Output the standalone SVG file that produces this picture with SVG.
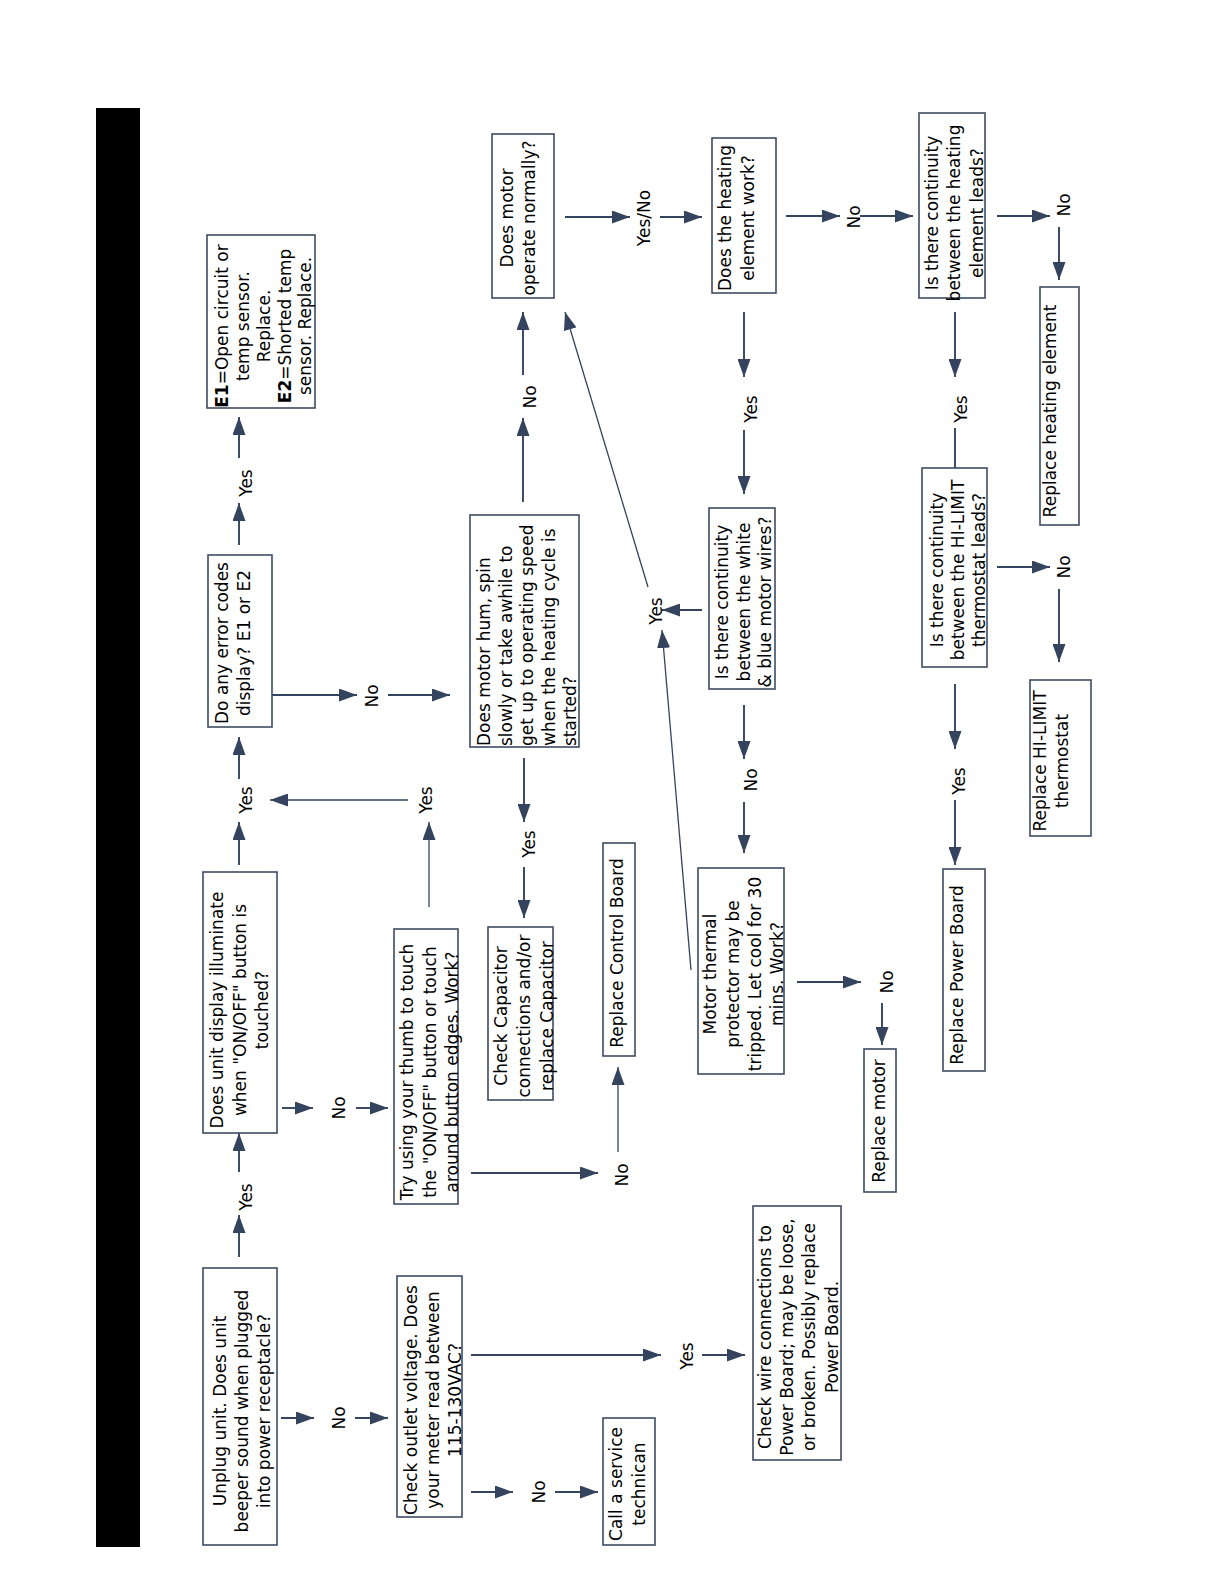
<svg xmlns="http://www.w3.org/2000/svg" width="1224" height="1584" viewBox="0 0 1224 1584">
<style>
.box{fill:#fff;stroke:#3f4b63;stroke-width:1.6}
.t{font-family:"DejaVu Sans",Verdana,sans-serif;font-size:17px;fill:#000}
.c{fill:none;stroke:#34445f;stroke-width:1.9;marker-end:url(#ah)}
.thin{fill:none;stroke:#34445f;stroke-width:1.3;marker-end:url(#ah)}
.plain{fill:none;stroke:#34445f;stroke-width:1.9}
</style>
<defs>
<marker id="ah" markerUnits="userSpaceOnUse" markerWidth="18" markerHeight="13" refX="18" refY="6.5" orient="auto">
<path d="M0,0 L18,6.5 L0,13 Z" fill="#34445f"/>
</marker>
</defs>
<rect width="1224" height="1584" fill="#fff"/>
<rect id="bar" x="96" y="108" width="44" height="1439" fill="#000"/>

<g id="connectors">
<line class="c" x1="239" y1="1257" x2="239" y2="1215"/>
<line class="c" x1="239" y1="1172" x2="239" y2="1133"/>
<line class="c" x1="281" y1="1418" x2="314" y2="1418"/>
<line class="c" x1="355" y1="1418" x2="388" y2="1418"/>
<line class="c" x1="239" y1="865" x2="239" y2="822"/>
<line class="c" x1="239" y1="779" x2="239" y2="737"/>
<line class="c" x1="282" y1="1108" x2="313" y2="1108"/>
<line class="c" x1="356" y1="1108" x2="388" y2="1108"/>
<line class="thin" x1="429" y1="907" x2="429" y2="822"/>
<line class="thin" x1="408" y1="800" x2="270" y2="800"/>
<line class="c" x1="471" y1="1173" x2="598" y2="1173"/>
<line class="thin" x1="618" y1="1152" x2="618" y2="1067"/>
<line class="c" x1="471" y1="1355" x2="661" y2="1355"/>
<line class="c" x1="702" y1="1355" x2="745" y2="1355"/>
<line class="c" x1="471" y1="1492" x2="513" y2="1492"/>
<line class="c" x1="555" y1="1492" x2="598" y2="1492"/>
<line class="c" x1="272" y1="695" x2="357" y2="695"/>
<line class="c" x1="388" y1="695" x2="450" y2="695"/>
<line class="c" x1="239" y1="545" x2="239" y2="503"/>
<line class="c" x1="239" y1="458" x2="239" y2="417"/>
<line class="c" x1="523" y1="502" x2="523" y2="418"/>
<line class="c" x1="523" y1="375" x2="523" y2="312"/>
<line class="c" x1="524" y1="758" x2="524" y2="822"/>
<line class="c" x1="524" y1="867" x2="524" y2="918"/>
<line class="c" x1="565" y1="217" x2="630" y2="217"/>
<line class="c" x1="660" y1="217" x2="702" y2="217"/>
<line class="c" x1="786" y1="216" x2="840" y2="216"/>
<line class="c" x1="860" y1="216" x2="913" y2="216"/>
<line class="c" x1="997" y1="216" x2="1050" y2="216"/>
<line class="c" x1="1059" y1="227" x2="1059" y2="280"/>
<line class="c" x1="744" y1="312" x2="744" y2="377"/>
<line class="c" x1="744" y1="430" x2="744" y2="494"/>
<line class="c" x1="955" y1="312" x2="955" y2="377"/>
<line class="plain" x1="955" y1="428" x2="955" y2="468"/>
<line class="c" x1="997" y1="567" x2="1050" y2="567"/>
<line class="c" x1="1059" y1="589" x2="1059" y2="662"/>
<line class="c" x1="955" y1="684" x2="955" y2="749"/>
<line class="c" x1="955" y1="800" x2="955" y2="865"/>
<line class="c" x1="744" y1="705" x2="744" y2="759"/>
<line class="c" x1="744" y1="802" x2="744" y2="853"/>
<line class="c" x1="702" y1="610" x2="662" y2="610"/>
<line class="thin" x1="648" y1="587" x2="565" y2="312"/>
<line class="thin" x1="691" y1="970" x2="662" y2="630"/>
<line class="c" x1="797" y1="982" x2="861" y2="982"/>
<line class="c" x1="882" y1="1003" x2="882" y2="1045"/>
</g>

<g id="labels" class="t" text-anchor="middle">
<text transform="translate(252,1197) rotate(-90)">Yes</text>
<text transform="translate(345,1418) rotate(-90)">No</text>
<text transform="translate(252,800) rotate(-90)">Yes</text>
<text transform="translate(345,1108) rotate(-90)">No</text>
<text transform="translate(432,800) rotate(-90)">Yes</text>
<text transform="translate(628,1175) rotate(-90)">No</text>
<text transform="translate(693,1356) rotate(-90)">Yes</text>
<text transform="translate(545,1492) rotate(-90)">No</text>
<text transform="translate(378,696) rotate(-90)">No</text>
<text transform="translate(252,483) rotate(-90)">Yes</text>
<text transform="translate(536,397) rotate(-90)">No</text>
<text transform="translate(650,218) rotate(-90)">Yes/No</text>
<text transform="translate(860,217) rotate(-90)">No</text>
<text transform="translate(1070,205) rotate(-90)">No</text>
<text transform="translate(757,409) rotate(-90)">Yes</text>
<text transform="translate(967,409) rotate(-90)">Yes</text>
<text transform="translate(1070,567) rotate(-90)">No</text>
<text transform="translate(965,781) rotate(-90)">Yes</text>
<text transform="translate(757,780) rotate(-90)">No</text>
<text transform="translate(662,611) rotate(-90)">Yes</text>
<text transform="translate(893,982) rotate(-90)">No</text>
<text transform="translate(535,844) rotate(-90)">Yes</text>
</g>

<g id="n1">
<rect class="box" x="203" y="1268" width="74" height="277"/>
<text class="t" text-anchor="middle" transform="translate(226,1411) rotate(-90)"><tspan x="0" y="0">Unplug unit. Does unit</tspan><tspan x="0" y="22">beeper sound when plugged</tspan><tspan x="0" y="44">into power receptacle?</tspan></text>
</g>
<g id="n2">
<rect class="box" x="203" y="872" width="74" height="261"/>
<text class="t" text-anchor="middle" transform="translate(223,1010) rotate(-90)"><tspan x="0" y="0">Does unit display illuminate</tspan><tspan x="0" y="22.5">when "ON/OFF" button is</tspan><tspan x="0" y="45">touched?</tspan></text>
</g>
<g id="n3">
<rect class="box" x="397" y="1276" width="65" height="241"/>
<text class="t" text-anchor="middle" transform="translate(417,1400) rotate(-90)"><tspan x="0" y="0">Check outlet voltage. Does</tspan><tspan x="0" y="22">your meter read between</tspan><tspan x="0" y="44">115-130VAC?</tspan></text>
</g>
<g id="n4">
<rect class="box" x="394" y="929" width="64" height="275"/>
<text class="t" text-anchor="middle" transform="translate(413,1072) rotate(-90)"><tspan x="0" y="0">Try using your thumb to touch</tspan><tspan x="0" y="22.5">the "ON/OFF" button or touch</tspan><tspan x="0" y="45">around button edges. Work?</tspan></text>
</g>
<g id="n5">
<rect class="box" x="208" y="555" width="64" height="172"/>
<text class="t" text-anchor="middle" transform="translate(228,643) rotate(-90)"><tspan x="0" y="0">Do any error codes</tspan><tspan x="0" y="22">display? E1 or E2</tspan></text>
</g>
<g id="n6">
<rect class="box" x="207" y="235" width="108" height="173"/>
<text class="t" text-anchor="middle" transform="translate(228,326) rotate(-90)"><tspan x="0" y="0"><tspan font-weight="bold">E1</tspan>=Open circuit or</tspan><tspan x="0" y="21">temp sensor.</tspan><tspan x="0" y="42">Replace.</tspan><tspan x="0" y="63"><tspan font-weight="bold">E2</tspan>=Shorted temp</tspan><tspan x="0" y="83">sensor. Replace.</tspan></text>
</g>
<g id="n7">
<rect class="box" x="470" y="515" width="109" height="232"/>
<text class="t" text-anchor="start" transform="translate(490,746) rotate(-90)"><tspan x="0" y="0">Does motor hum, spin</tspan><tspan x="0" y="21.5">slowly or take awhile to</tspan><tspan x="0" y="43">get up to operating speed</tspan><tspan x="0" y="64.5">when the heating cycle is</tspan><tspan x="0" y="86">started?</tspan></text>
</g>
<g id="n8">
<rect class="box" x="492" y="134" width="62" height="164"/>
<text class="t" text-anchor="middle" transform="translate(513,218) rotate(-90)"><tspan x="0" y="0">Does motor</tspan><tspan x="0" y="22">operate normally?</tspan></text>
</g>
<g id="n9">
<rect class="box" x="488" y="927" width="65" height="173"/>
<text class="t" text-anchor="middle" transform="translate(507,1016) rotate(-90)"><tspan x="0" y="0">Check Capacitor</tspan><tspan x="0" y="23">connections and/or</tspan><tspan x="0" y="46">replace Capacitor</tspan></text>
</g>
<g id="n10">
<rect class="box" x="603" y="843" width="32" height="213"/>
<text class="t" text-anchor="middle" transform="translate(623,953) rotate(-90)">Replace Control Board</text>
</g>
<g id="n11">
<rect class="box" x="603" y="1418" width="52" height="127"/>
<text class="t" text-anchor="middle" transform="translate(622,1484) rotate(-90)"><tspan x="0" y="0">Call a service</tspan><tspan x="0" y="23">technican</tspan></text>
</g>
<g id="n12">
<rect class="box" x="753" y="1206" width="88" height="254"/>
<text class="t" text-anchor="middle" transform="translate(771,1337) rotate(-90)"><tspan x="0" y="0">Check wire connections to</tspan><tspan x="0" y="22">Power Board; may be loose,</tspan><tspan x="0" y="44">or broken. Possibly replace</tspan><tspan x="0" y="67">Power Board.</tspan></text>
</g>
<g id="n13">
<rect class="box" x="698" y="868" width="86" height="206"/>
<text class="t" text-anchor="middle" transform="translate(716,974) rotate(-90)"><tspan x="0" y="0">Motor thermal</tspan><tspan x="0" y="23">protector may be</tspan><tspan x="0" y="45">tripped. Let cool for 30</tspan><tspan x="0" y="67">mins. Work?</tspan></text>
</g>
<g id="n14">
<rect class="box" x="864" y="1049" width="32" height="143"/>
<text class="t" text-anchor="middle" transform="translate(885,1121) rotate(-90)">Replace motor</text>
</g>
<g id="n15">
<rect class="box" x="709" y="508" width="66" height="181"/>
<text class="t" text-anchor="middle" transform="translate(728,602) rotate(-90)"><tspan x="0" y="0">Is there continuity</tspan><tspan x="0" y="22">between the white</tspan><tspan x="0" y="43">&amp; blue motor wires?</tspan></text>
</g>
<g id="n16">
<rect class="box" x="712" y="138" width="64" height="155"/>
<text class="t" text-anchor="middle" transform="translate(731,218) rotate(-90)"><tspan x="0" y="0">Does the heating</tspan><tspan x="0" y="23">element work?</tspan></text>
</g>
<g id="n17">
<rect class="box" x="919" y="113" width="66" height="185"/>
<text class="t" text-anchor="middle" transform="translate(938,213) rotate(-90)"><tspan x="0" y="0">Is there continuity</tspan><tspan x="0" y="22">between the heating</tspan><tspan x="0" y="45">element leads?</tspan></text>
</g>
<g id="n18">
<rect class="box" x="1040" y="287" width="39" height="238"/>
<text class="t" text-anchor="middle" transform="translate(1056,411) rotate(-90)">Replace heating element</text>
</g>
<g id="n19">
<rect class="box" x="922" y="468" width="65" height="199"/>
<text class="t" text-anchor="middle" transform="translate(943,570) rotate(-90)"><tspan x="0" y="0">Is there continuity</tspan><tspan x="0" y="21">between the HI-LIMIT</tspan><tspan x="0" y="42">thermostat leads?</tspan></text>
</g>
<g id="n20">
<rect class="box" x="1030" y="680" width="61" height="156"/>
<text class="t" text-anchor="middle" transform="translate(1046,761) rotate(-90)"><tspan x="0" y="0">Replace HI-LIMIT</tspan><tspan x="0" y="22">thermostat</tspan></text>
</g>
<g id="n21">
<rect class="box" x="943" y="869" width="42" height="202"/>
<text class="t" text-anchor="middle" transform="translate(963,975) rotate(-90)">Replace Power Board</text>
</g>
</svg>
